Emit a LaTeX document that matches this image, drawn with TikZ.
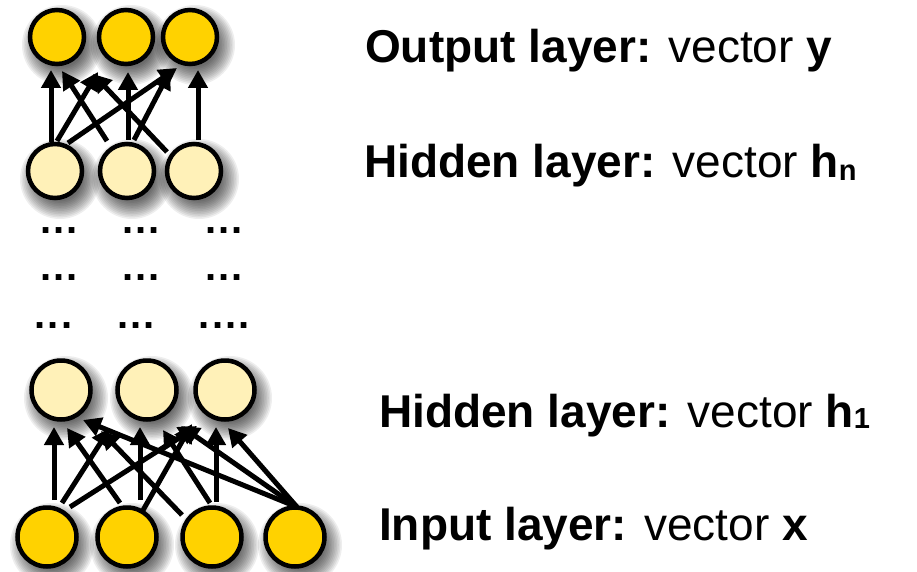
\documentclass[tikz,border=0pt]{standalone}
\usepackage{fontspec}
\setmainfont{Liberation Sans}
\usetikzlibrary{arrows.meta,calc}
\pgfdeclarelayer{background}
\pgfsetlayers{background,main}
\definecolor{gold}{HTML}{FFD200}
\definecolor{pale}{HTML}{FFF1B8}
\begin{document}
\begin{tikzpicture}[x=1pt,y=-1pt,
  arr/.style={line width=5pt,-{Triangle[length=18pt,width=19pt]}},
  neur/.style={circle,draw=black,line width=4.5pt,inner sep=0pt},
  smallneur/.style={neur,minimum size=54pt},
  bigneur/.style={neur,minimum size=59pt},
  shadowring/.style={fill=black,opacity=0.065},
  dotsn/.style={inner sep=0pt,font=\fontsize{40}{40}\selectfont\bfseries},
  lbl/.style={anchor=base west,inner sep=0pt,font=\fontsize{46}{50}\selectfont}]
\useasboundingbox (0,0) rectangle (917,572);

% output layer
\node[smallneur,fill=gold] (o1) at (57,37) {};
\node[smallneur,fill=gold] (o2) at (126,37) {};
\node[smallneur,fill=gold] (o3) at (190,37) {};
% hidden layer n
\node[smallneur,fill=pale] (h1) at (55,171) {};
\node[smallneur,fill=pale] (h2) at (127,171) {};
\node[smallneur,fill=pale] (h3) at (194,171) {};
% hidden layer 1
\node[bigneur,fill=pale] (g1) at (61,390) {};
\node[bigneur,fill=pale] (g2) at (147,390) {};
\node[bigneur,fill=pale] (g3) at (225,390) {};
% input layer
\node[bigneur,fill=gold] (i1) at (47,537) {};
\node[bigneur,fill=gold] (i2) at (127,537) {};
\node[bigneur,fill=gold] (i3) at (212,537) {};
\node[bigneur,fill=gold] (i4) at (295,537) {};

% dots
\node[dotsn] (d11) at (59,231) {.\hspace{2.2pt}.\hspace{2.2pt}.};
\node[dotsn] (d12) at (141,231) {.\hspace{2.2pt}.\hspace{2.2pt}.};
\node[dotsn] (d13) at (224,231) {.\hspace{2.2pt}.\hspace{2.2pt}.};
\node[dotsn] (d21) at (59,278) {.\hspace{2.2pt}.\hspace{2.2pt}.};
\node[dotsn] (d22) at (141,278) {.\hspace{2.2pt}.\hspace{2.2pt}.};
\node[dotsn] (d23) at (224,278) {.\hspace{2.2pt}.\hspace{2.2pt}.};
\node[dotsn] (d31) at (53.5,326) {.\hspace{2.2pt}.\hspace{2.2pt}.};
\node[dotsn] (d32) at (136,326) {.\hspace{2.2pt}.\hspace{2.2pt}.};
\node[dotsn] (d33) at (224.5,326) {.\hspace{2.2pt}.\hspace{2.2pt}.\hspace{2.2pt}.};

% labels
\node[lbl] (lo) at (365,63) {\textbf{Output layer:} vector \textbf{y}};
\node[lbl] (lhn) at (364,178) {\textbf{Hidden layer:} vector \textbf{h\raisebox{-2pt}{\fontsize{29}{30}\selectfont n}}};
\node[lbl] (lh1) at (379,427) {\textbf{Hidden layer:} vector \textbf{h\raisebox{-1pt}{\fontsize{29}{30}\selectfont 1}}};
\node[lbl] (li) at (379,540) {\textbf{Input layer:} vector \textbf{x}};

\begin{pgfonlayer}{background}
\fill[white] (0,0) rectangle (917,572);
% soft drop shadows
\foreach \n in {o1,o2,o3,h1,h2,h3}{
  \foreach \k in {0,...,11}{
    \fill[shadowring] ($(\n)+(5,8)$) circle ({40-\k*1.6});
  }
}
\foreach \n in {g1,g2,g3,i1,i2,i3,i4}{
  \foreach \k in {0,...,11}{
    \fill[shadowring] ($(\n)+(5,8)$) circle ({42-\k*1.6});
  }
}
% hidden n -> output
\draw[arr] ($(h1)+(-4,-29)$) -- ($(o1)+(-6,33)$);
\draw[arr] ($(h2)+(-20,-30)$) -- ($(o1)+(5,34)$);
\draw[arr] ($(h1)+(2,-30)$) -- ($(o2)+(-28,35)$);
\draw[arr] ($(h3)+(-27,-19)$) -- ($(o2)+(-33,37)$);
\draw[arr] ($(h1)+(13,-28)$) -- ($(o3)+(-13,31)$);
\draw[arr] ($(h2)+(7,-31)$) -- ($(o3)+(-20,34)$);
\draw[arr] ($(h2)+(1,-31)$) -- ($(o2)+(2,35)$);
\draw[arr] ($(h3)+(4,-31)$) -- ($(o3)+(8,33)$);
% input -> hidden 1
\draw[arr] ($(i1)+(7,-37)$) -- ($(g1)+(-7,37)$);
\draw[arr] ($(i2)+(-7,-34)$) -- ($(g1)+(6,38)$);
\draw[arr] ($(i4)+(2,-30)$) -- ($(g1)+(22,30)$);
\draw[arr] ($(i3)+(-30,-22)$) -- ($(g1)+(40,41)$);
\draw[arr] ($(i1)+(15,-34)$) -- ($(g2)+(-37,38)$);
\draw[arr] ($(i2)+(13,-37)$) -- ($(g2)+(-7,37)$);
\draw[arr] ($(i3)+(-2,-34)$) -- ($(g2)+(16,40)$);
\draw[arr] ($(i4)+(2,-30)$) -- ($(g2)+(34,36)$);
\draw[arr] ($(i1)+(23,-30)$) -- ($(g3)+(-28,36)$);
\draw[arr] ($(i2)+(15,-25)$) -- ($(g3)+(-33,34)$);
\draw[arr] ($(i3)+(4,-35)$) -- ($(g3)+(-9,37)$);
\draw[arr] ($(i4)+(2,-30)$) -- ($(g3)+(3,38)$);
\end{pgfonlayer}
\end{tikzpicture}
\end{document}
